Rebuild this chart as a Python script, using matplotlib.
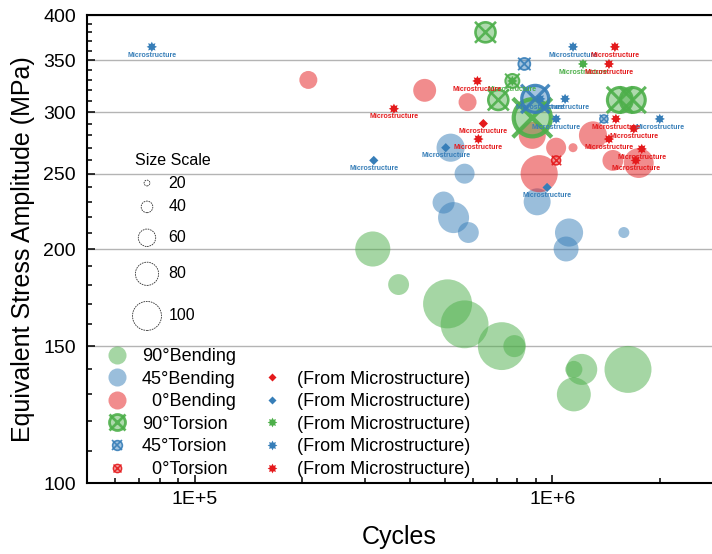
import matplotlib
matplotlib.use("Agg")
import matplotlib.pyplot as plt
from matplotlib.lines import Line2D
from matplotlib.legend_handler import HandlerTuple
from matplotlib.path import Path
from matplotlib.ticker import FixedLocator, NullFormatter, FuncFormatter
import numpy as np

plt.rcParams['font.family'] = ['Liberation Sans', 'DejaVu Sans']

GREEN = "#4daf4a"
BLUE = "#377eb8"
RED = "#e41a1c"

# ── data (cycles, stress MPa, bubble size in "Size Scale" units) ────────────
b90_x = [3.15e5, 3.72e5, 5.10e5, 5.69e5, 7.23e5, 7.84e5, 1.21e6, 1.15e6, 1.15e6, 1.63e6]
b90_y = [200, 180, 170, 160, 150, 150, 140, 140, 130, 140]
b90_s = [121, 72, 169, 165, 165, 76, 107, 59, 117, 162]

b45_x = [5.20e5, 5.69e5, 4.97e5, 5.30e5, 5.83e5, 9.08e5, 1.115e6, 1.094e6, 1.587e6]
b45_y = [270, 250, 229.5, 219.5, 210, 230, 210, 200, 210]
b45_s = [97, 69, 76, 107, 72, 93, 97, 86, 38]

b0_x = [2.08e5, 4.40e5, 5.80e5, 8.80e5, 1.026e6, 1.144e6, 9.20e5, 1.301e6, 1.479e6, 1.747e6]
b0_y = [330, 320, 309, 280, 270, 270, 250, 280, 260, 258]
b0_s = [62, 79, 62, 93, 69, 31, 128, 97, 72, 103]

t90_x = [6.51e5, 7.74e5, 7.07e5, 8.80e5, 1.547e6, 1.681e6]
t90_y = [380, 329, 311, 295, 311, 311]
t90_s = [69, 48, 69, 128, 86, 86]

t45_x = [8.36e5, 8.97e5, 1.396e6]
t45_y = [346, 312, 294]
t45_s = [41, 93, 28]

t0_x = [1.026e6]
t0_y = [260]
t0_s = [31]

# points estimated from microstructure
mb0_x = [6.42e5]
mb0_y = [290]
mb45_x = [5.04e5, 3.17e5, 9.68e5]
mb45_y = [270, 260, 240]
mt90_x = [1.22e6, 7.74e5]
mt90_y = [346, 329]
mt45_x = [7.59e4, 1.144e6, 9.26e5, 1.087e6, 1.026e6, 2.0e6]
mt45_y = [364, 364, 312, 312, 294, 294]
mt0_x = [3.61e5, 6.18e5, 6.22e5, 1.498e6, 1.442e6, 1.508e6, 1.692e6, 1.442e6, 1.781e6, 1.714e6]
mt0_y = [303, 329, 277, 364, 346, 294, 285.6, 277, 269, 260]

scale_vals = [20, 40, 60, 80, 100]

y_major = [100, 150, 200, 250, 300, 350, 400]
x_major = [1e5, 1e6]
x_labels = ["1E+5", "1E+6"]


def area(v):
    # diameter grows linearly with the size value
    return (0.2088 * np.asarray(v, dtype=float)) ** 2


STAR = Path.unit_regular_star(8, innerCircle=0.6)

fig = plt.figure(figsize=(7.12, 5.54), dpi=100)
ax = fig.add_axes([87 / 712, 71 / 554, 625 / 712, 468 / 554])
ax.set_xscale("log")
ax.set_yscale("log")
ax.set_xlim(5.0e4, 2.8e6)
ax.set_ylim(100, 400)

# ── bending bubbles ──────────────────────────────────────────────────────────
for xs, ys, ss, c in [(b90_x, b90_y, b90_s, GREEN),
                      (b45_x, b45_y, b45_s, BLUE),
                      (b0_x, b0_y, b0_s, RED)]:
    ax.scatter(xs, ys, s=area(ss), color=c, alpha=0.5, edgecolors="none", zorder=2)

# ── torsion: filled circle + outline + cross ────────────────────────────────
for xs, ys, ss, c in [(t90_x, t90_y, t90_s, GREEN),
                      (t45_x, t45_y, t45_s, BLUE),
                      (t0_x, t0_y, t0_s, RED)]:
    lw = 0.5 + np.asarray(ss) / 50
    ax.scatter(xs, ys, s=area(ss), color=c, alpha=0.45, edgecolors="none", zorder=3)
    ax.scatter(xs, ys, s=area(ss), facecolors="none", edgecolors=c, linewidths=lw,
               alpha=0.9, zorder=4)
    ax.scatter(xs, ys, s=area(ss) * 1.1, marker="x", color=c, linewidths=lw, alpha=0.9, zorder=4)

# ── microstructure estimates ────────────────────────────────────────────────
micro = [(mb0_x, mb0_y, "D", 22, RED),
         (mb45_x, mb45_y, "D", 22, BLUE),
         (mt90_x, mt90_y, STAR, 55, GREEN),
         (mt45_x, mt45_y, STAR, 55, BLUE),
         (mt0_x, mt0_y, STAR, 55, RED)]
for xs, ys, m, s, c in micro:
    ax.scatter(xs, ys, s=s, marker=m, color=c, edgecolors="none", zorder=5)
    for x, y in zip(xs, ys):
        ax.annotate("Microstructure", (x, y), xytext=(0, -3.4), textcoords="offset points",
                    ha="center", va="top", fontsize=5, fontweight="bold", color=c, zorder=6)

# ── axes styling ────────────────────────────────────────────────────────────
ax.yaxis.set_major_locator(FixedLocator(y_major))
ax.yaxis.set_minor_locator(FixedLocator([v for v in range(110, 400, 10) if v % 50]))
ax.yaxis.set_major_formatter(FuncFormatter(lambda v, p: f"{v:.0f}"))
ax.yaxis.set_minor_formatter(NullFormatter())

x_minor = [m * 10 ** e for e in (4, 5, 6) for m in range(2, 10)]
ax.xaxis.set_major_locator(FixedLocator(x_major))
ax.xaxis.set_minor_locator(FixedLocator(x_minor))
ax.xaxis.set_minor_formatter(NullFormatter())
ax.set_xticklabels(x_labels)

ax.tick_params(which="both", direction="in", width=1.1, labelsize=14, pad=6)
ax.tick_params(which="major", length=6)
ax.tick_params(which="minor", length=3.5)
ax.tick_params(axis="y", pad=8)

ax.yaxis.grid(True, which="major", color="#b4b4b4", lw=1.0, zorder=0)
ax.set_axisbelow(True)
for side in ("left", "bottom", "top"):
    ax.spines[side].set_linewidth(1.5)
ax.spines["right"].set_visible(False)

ax.set_xlabel("Cycles", fontsize=18, labelpad=12)
ax.set_ylabel("Equivalent Stress Amplitude (MPa)", fontsize=18, labelpad=6)

# ── size scale key ──────────────────────────────────────────────────────────
key_y = [0.641, 0.590, 0.524, 0.447, 0.357]
ax.text(0.077, 0.690, "Size Scale", transform=ax.transAxes, fontsize=11.5,
        ha="left", va="center")
for v, yy in zip(scale_vals, key_y):
    ax.scatter([0.096], [yy], s=area(v), transform=ax.transAxes, facecolors="none",
               edgecolors="#333333", linewidths=0.6, linestyles=(0, (2, 1)), zorder=5)
    ax.text(0.130, yy, str(v), transform=ax.transAxes, fontsize=11.5,
            ha="left", va="center")

# ── legend ──────────────────────────────────────────────────────────────────
def bub(c):
    return Line2D([], [], ls="none", marker="o", ms=13, mfc=c, mec="none", alpha=0.5)


def tor(c, ms, lw):
    return (Line2D([], [], ls="none", marker="o", ms=ms, mfc=c, mec="none", alpha=0.45),
            Line2D([], [], ls="none", marker="o", ms=ms, mfc="none", mec=c, mew=lw, alpha=0.9),
            Line2D([], [], ls="none", marker="x", ms=ms, mec=c, mew=lw, alpha=0.9))


def mic(m, c, ms):
    return Line2D([], [], ls="none", marker=m, ms=ms, mfc=c, mec="none")


handles = [bub(GREEN), bub(BLUE), bub(RED),
           tor(GREEN, 11.5, 2.0), tor(BLUE, 7, 1.2), tor(RED, 6, 1.0),
           Line2D([], [], ls="none"),
           mic("D", RED, 4.5), mic("D", BLUE, 4.5),
           mic(STAR, GREEN, 7), mic(STAR, BLUE, 7), mic(STAR, RED, 7)]
labels = ["90°Bending", "45°Bending", "  0°Bending",
          "90°Torsion", "45°Torsion", "  0°Torsion",
          "", "(From Microstructure)", "(From Microstructure)",
          "(From Microstructure)", "(From Microstructure)", "(From Microstructure)"]
ax.legend(handles, labels, ncol=2, loc="upper left",
          bbox_to_anchor=(106 / 712, (554 - 348) / 554), bbox_transform=fig.transFigure,
          frameon=False, fontsize=13, borderpad=0, borderaxespad=0,
          handlelength=1.2, handletextpad=0.8, columnspacing=1.37, labelspacing=0.31,
          handler_map={tuple: HandlerTuple(ndivide=1)})

fig.savefig("out.png", dpi=100)
